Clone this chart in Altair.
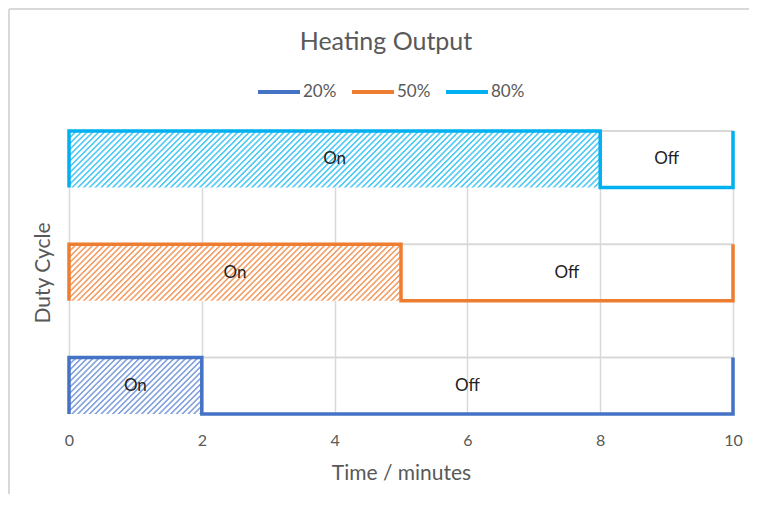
import altair as alt
import pandas as pd

# ---------------- data ----------------
series = ["20%", "50%", "80%"]
on_minutes = [2, 5, 8]
cycle_minutes = 10
row_levels = [0, 1, 2]
row_band = 0.5
x_ticks = [0, 2, 4, 6, 8, 10]
state_labels = ["On", "Off"]
line_colors = ["#4472C4", "#ED7D31", "#00B0F0"]
hatch_colors = ["#86A4DE", "#F3A26B", "#52CBF5"]

# ---------------- style ----------------
PLOT_W, PLOT_H = 664, 283
Y_MAX = 2.5
FONT = "Lato"
GREY = "#595959"
GRID = "#D9D9D9"

seg_rows, step_rows = [], []
for s, on, lv in zip(series, on_minutes, row_levels):
    lo, hi = lv, lv + row_band
    seg_rows.append(dict(series=s, state=state_labels[0], x0=0, x1=on, y0=lo, y1=hi))
    seg_rows.append(dict(series=s, state=state_labels[1], x0=on, x1=cycle_minutes, y0=lo, y1=hi))
    pts = [(0, lo), (0, hi), (on, hi), (on, lo), (cycle_minutes, lo), (cycle_minutes, hi)]
    for i, (x, y) in enumerate(pts):
        step_rows.append(dict(series=s, idx=i, x=x, y=y))
seg = pd.DataFrame(seg_rows)
seg["xm"] = (seg.x0 + seg.x1) / 2
seg["ym"] = (seg.y0 + seg.y1) / 2
step = pd.DataFrame(step_rows)


def hatch(color, w, h, period=5.8):
    """diagonal stripe fill as a linear gradient (45 degrees in pixel space)"""
    total = w + h
    p = period / total
    stops = []
    j = 0
    while j * p < 1:
        b = j * p
        for frac, c in ((0.0, "#ffffff"), (0.18, color), (0.40, color), (0.58, "#ffffff")):
            off = b + frac * p
            if off <= 1:
                stops.append({"offset": round(off, 6), "color": c})
        j += 1
    stops.append({"offset": 1, "color": "#ffffff"})
    r = h / w
    k = (1 + r) / (1 + r * r)
    return {"gradient": "linear", "x1": 0, "y1": 0, "x2": k, "y2": k * r, "stops": stops}


xscale = alt.Scale(domain=[0, cycle_minutes], nice=False, zero=False)
yscale = alt.Scale(domain=[0, Y_MAX], nice=False, zero=False)
xaxis = alt.Axis(title="Time / minutes", values=x_ticks, grid=True, gridColor=GRID,
                 gridWidth=1.5, domain=False, ticks=False, labelFlush=False,
                 labelFont=FONT, labelFontSize=16, labelColor=GREY, labelPadding=18,
                 titleFont=FONT, titleFontSize=21, titleFontWeight="normal",
                 titleColor=GREY, titlePadding=14)
yaxis = alt.Axis(title="Duty Cycle", labels=False, ticks=False, domain=False, grid=False,
                 titleFont=FONT, titleFontSize=21, titleFontWeight="normal",
                 titleColor=GREY, titlePadding=16)

base = alt.Chart(seg)

off_boxes = base.transform_filter(alt.datum.state == "Off").mark_rect(
    fill="transparent", stroke=GRID, strokeWidth=2
).encode(
    x=alt.X("x0:Q", scale=xscale, axis=xaxis), x2="x1",
    y=alt.Y("y0:Q", scale=yscale, axis=yaxis), y2="y1",
)

hatch_layers = []
for s, on, hc in zip(series, on_minutes, hatch_colors):
    w = on / cycle_minutes * PLOT_W
    h = row_band / Y_MAX * PLOT_H
    hatch_layers.append(
        base.transform_filter((alt.datum.series == s) & (alt.datum.state == "On"))
        .mark_rect(fill=hatch(hc, w, h))
        .encode(
            x=alt.X("x0:Q", scale=xscale, axis=xaxis), x2="x1",
            y=alt.Y("y0:Q", scale=yscale, axis=yaxis), y2="y1",
        )
    )

lines = alt.Chart(step).mark_line(strokeWidth=3.5, strokeJoin="miter").encode(
    x=alt.X("x:Q", scale=xscale, axis=xaxis),
    y=alt.Y("y:Q", scale=yscale, axis=yaxis),
    order="idx:Q",
    color=alt.Color(
        "series:N",
        scale=alt.Scale(domain=series, range=line_colors),
        legend=alt.Legend(
            title=None, orient="none", direction="horizontal", legendX=187, legendY=-62,
            symbolType="stroke", symbolSize=1764, symbolStrokeWidth=4,
            labelFont=FONT, labelFontSize=17, labelColor=GREY, labelOffset=1,
            columnPadding=7, padding=0,
        ),
    ),
)

labels = base.mark_text(font=FONT, fontSize=17, color="#222222").encode(
    x=alt.X("xm:Q", scale=xscale, axis=xaxis),
    y=alt.Y("ym:Q", scale=yscale, axis=yaxis),
    text="state:N",
)

frame_top = alt.Chart(seg).mark_rule(color=GRID, strokeWidth=1.5).encode(
    x=alt.value(-60), x2=alt.value(700), y=alt.value(-122)
)
frame_left = alt.Chart(seg).mark_rule(color=GRID, strokeWidth=1.5).encode(
    x=alt.value(-60), y=alt.value(-122), y2=alt.value(370)
)

chart = alt.layer(off_boxes, *hatch_layers, lines, labels, frame_top, frame_left).properties(
    width=PLOT_W, height=PLOT_H,
    autosize=alt.AutoSizeParams(type="none"),
    padding={"left": 61, "top": 123, "right": 16, "bottom": 80},
    title=alt.TitleParams("Heating Output", font=FONT, fontSize=25, fontWeight="normal",
                          color=GREY, anchor="middle", frame="group", dx=-15,
                          baseline="alphabetic", offset=-67),
).configure_view(strokeWidth=0)

chart.save("out.html", embed_options={"renderer": "svg", "actions": False})
